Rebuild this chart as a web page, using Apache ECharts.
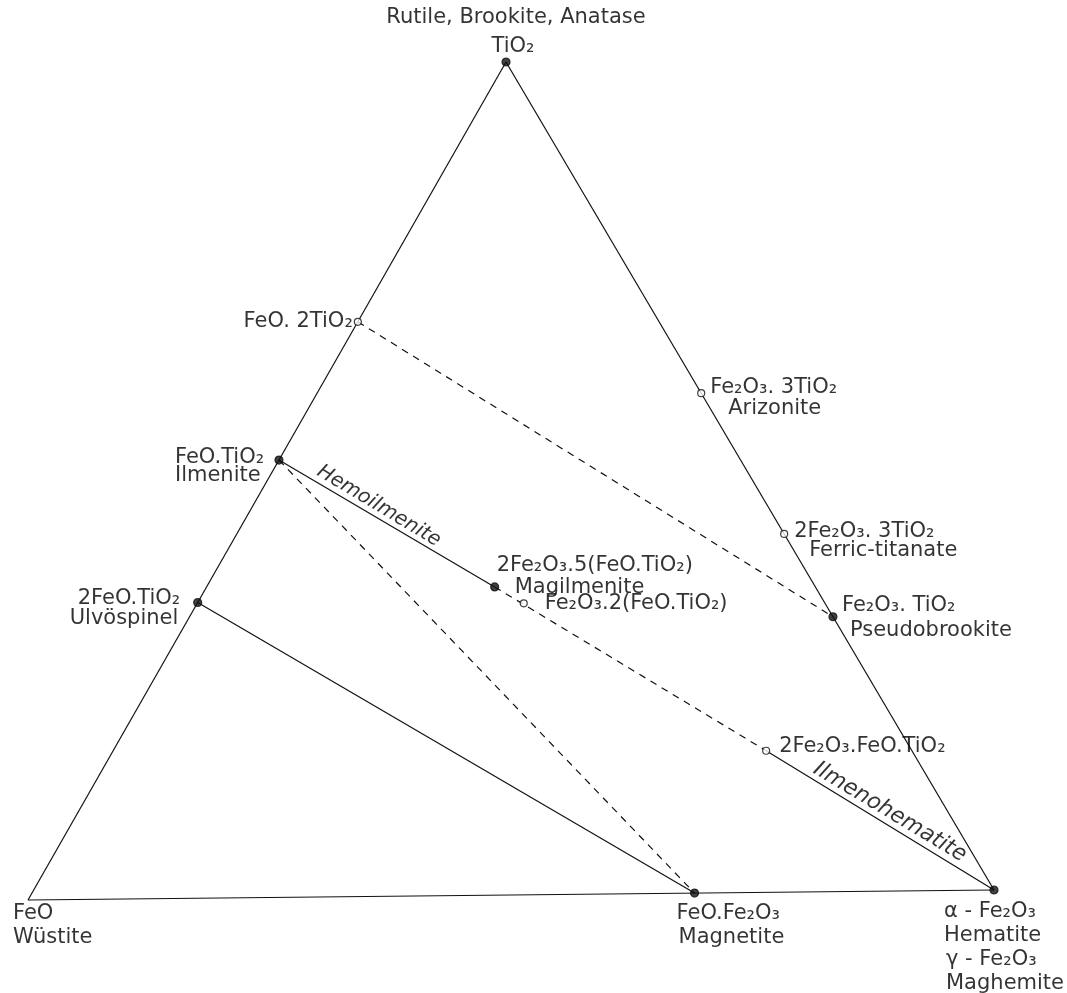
<!DOCTYPE html>
<html lang="en">
<head>
<meta charset="UTF-8">
<title>FeO - Fe2O3 - TiO2</title>
<script src="https://cdn.jsdelivr.net/npm/echarts@6/dist/echarts.min.js"></script>
<style>
    html, body { margin: 0; padding: 0; background: #fff; }
    #main { width: 1067px; height: 993px; }
</style>
</head>
<body>
<div id="main"></div>
<script>
// phases and their weight percent FeO / Fe2O3 / TiO2
var phases = ['TiO2', 'FeO.2TiO2', 'FeO.TiO2', '2FeO.TiO2', 'FeO', 'FeO.Fe2O3', 'Fe2O3',
              'Fe2O3.TiO2', '2Fe2O3.3TiO2', 'Fe2O3.3TiO2', '2Fe2O3.5(FeO.TiO2)', 'Fe2O3.2(FeO.TiO2)', '2Fe2O3.FeO.TiO2'];
var feo   = [0,   31, 47.5, 64.5, 100, 31, 0,   0,  0,  0,  33, 31, 15];
var fe2o3 = [0,   0,  0,    0,    0,   69, 100, 67, 57, 40, 30, 34, 68];
var tio2  = [100, 69, 52.5, 35.5, 0,   0,  0,   33, 43, 60, 37, 35, 17];
var filled = [1, 0, 1, 1, -1, 1, 1, 1, 0, 0, 1, 0, 0];   // -1 = no marker
var labels = [
    ['Rutile, Brookite, Anatase', 'TiO₂'],
    ['FeO. 2TiO₂'],
    ['FeO.TiO₂', 'Ilmenite'],
    ['2FeO.TiO₂', 'Ulvöspinel'],
    ['FeO', 'Wüstite'],
    ['FeO.Fe₂O₃', 'Magnetite'],
    ['α - Fe₂O₃', 'Hematite', 'γ - Fe₂O₃', 'Maghemite'],
    ['Fe₂O₃. TiO₂', 'Pseudobrookite'],
    ['2Fe₂O₃. 3TiO₂', 'Ferric-titanate'],
    ['Fe₂O₃. 3TiO₂', 'Arizonite'],
    ['2Fe₂O₃.5(FeO.TiO₂)', 'Magilmenite'],
    ['Fe₂O₃.2(FeO.TiO₂)'],
    ['2Fe₂O₃.FeO.TiO₂']
];
// joins between phases: [from, to, dashed]
var joins = [
    [4, 0, 0], [0, 6, 0], [6, 4, 0],
    [3, 5, 0], [2, 5, 1], [1, 7, 1],
    [2, 10, 0], [10, 12, 1], [12, 6, 0]
];
// solid solution series written along the ilmenite - hematite join
var solutions = ['Hemoilmenite', 'Ilmenohematite'];
var solutionAt = [0.131, 0.845];

// corners of the ternary frame in axis units
var corner = { FeO: [28, 900], Fe2O3: [994, 890], TiO2: [506, 62] };

function pos(i) {
    var a = feo[i], b = fe2o3[i], c = tio2[i], s = a + b + c;
    return [
        (a * corner.FeO[0] + b * corner.Fe2O3[0] + c * corner.TiO2[0]) / s,
        (a * corner.FeO[1] + b * corner.Fe2O3[1] + c * corner.TiO2[1]) / s
    ];
}

// label placement, per phase (pad = [left, right] per line)
var layout = [
    { align: 'center', dx: 10,   dy: -58.5, lh: 29, pad: [[0, 0], [0, 6]] },
    { align: 'right',  dx: -5,   dy: -12,   lh: 24, pad: [[0, 0]] },
    { align: 'left',   dx: -104, dy: -12,   lh: 18, pad: [[0, 0], [0, 0]] },
    { align: 'left',   dx: -128, dy: -14,   lh: 20, pad: [[8, 0], [0, 0]] },
    { align: 'left',   dx: -15,  dy: 2,     lh: 24, pad: [[0, 0], [0, 0]] },
    { align: 'left',   dx: -18,  dy: 8,     lh: 24, pad: [[0, 0], [2, 0]] },
    { align: 'left',   dx: -50,  dy: 10,    lh: 24, pad: [[0, 0], [0, 0], [2, 0], [2, 0]] },
    { align: 'left',   dx: 9,    dy: -23.5, lh: 25, pad: [[0, 0], [8, 0]] },
    { align: 'left',   dx: 10,   dy: -11.5, lh: 19, pad: [[0, 0], [15, 0]] },
    { align: 'left',   dx: 9,    dy: -16.5, lh: 21, pad: [[0, 0], [18, 0]] },
    { align: 'left',   dx: 2,    dy: -32,   lh: 22, pad: [[0, 0], [18, 0]] },
    { align: 'left',   dx: 21,   dy: -12,   lh: 24, pad: [[0, 0]] },
    { align: 'left',   dx: 13,   dy: -16,   lh: 24, pad: [[0, 0]] }
];

var ink = '#000';
var font = 'DejaVu Sans';

var series = [];

joins.forEach(function (j) {
    series.push({
        type: 'line',
        data: [pos(j[0]), pos(j[1])],
        showSymbol: false,
        silent: true,
        z: 1,
        lineStyle: { color: '#111', width: 1.2, type: j[2] ? [7, 6] : 'solid' }
    });
});

var points = phases.map(function (p, i) {
    var L = layout[i];
    var rich = {};
    labels[i].forEach(function (t, k) {
        rich['l' + k] = {
            fontFamily: font, fontSize: 21, color: ink,
            lineHeight: L.lh, padding: [0, L.pad[k][1], 0, L.pad[k][0]]
        };
    });
    return {
        name: p,
        value: pos(i),
        symbolSize: filled[i] === 1 ? 8 : (filled[i] === 0 ? 7 : 1),
        itemStyle: filled[i] === -1 ? { color: 'rgba(0,0,0,0)', borderWidth: 0 } :
            { color: filled[i] ? '#111' : '#fff', borderColor: '#111', borderWidth: 1.2 },
        label: {
            show: true,
            position: 'inside',
            align: L.align,
            verticalAlign: 'top',
            offset: [L.dx, L.dy],
            color: ink,
            formatter: labels[i].map(function (t, k) { return '{l' + k + '|' + t + '}'; }).join('\n'),
            rich: rich
        }
    };
});

series.push({
    type: 'scatter',
    data: points,
    symbol: 'circle',
    silent: true,
    z: 3
});

// solution names along the ilmenite - hematite join
var p0 = pos(2), p1 = pos(6);
var angle = -Math.atan2(p1[1] - p0[1], p1[0] - p0[0]) * 180 / Math.PI;
series.push({
    type: 'scatter',
    silent: true,
    z: 3,
    symbolSize: 1,
    itemStyle: { color: 'rgba(0,0,0,0)' },
    data: solutions.map(function (s, k) {
        var f = solutionAt[k];
        return {
            name: s,
            value: [p0[0] + (p1[0] - p0[0]) * f, p0[1] + (p1[1] - p0[1]) * f],
            label: {
                show: true,
                position: 'inside',
                formatter: s,
                rotate: angle,
                align: 'center',
                verticalAlign: 'bottom',
                offset: [0, -2],
                fontFamily: font,
                fontSize: k ? 22 : 20,
                fontStyle: 'italic',
                color: ink
            }
        };
    })
});

var myChart = echarts.init(document.getElementById('main'));
myChart.setOption({
    animation: false,
    backgroundColor: '#fff',
    grid: { left: 0, right: 0, top: 0, bottom: 0 },
    xAxis: { type: 'value', min: 0, max: 1067, show: false },
    yAxis: { type: 'value', min: 0, max: 993, inverse: true, show: false },
    series: series
});
</script>
</body>
</html>
